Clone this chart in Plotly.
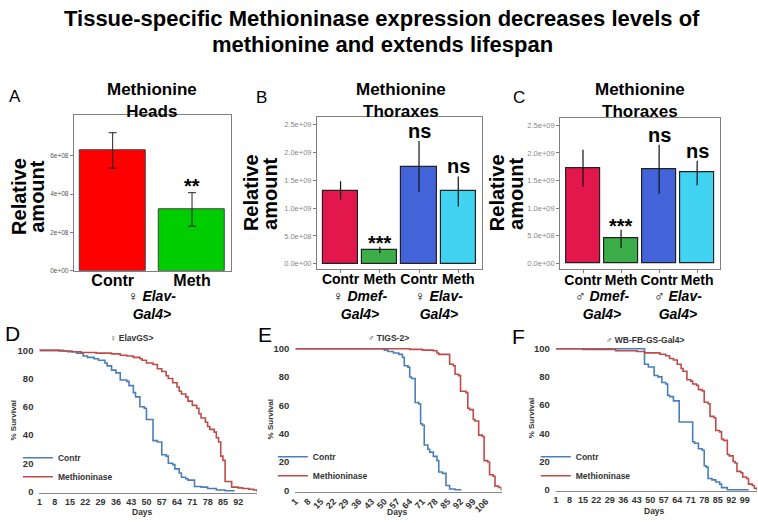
import plotly.graph_objects as go

W, H = 758, 523
def px_x(p): return p / W
def px_y(p): return 1 - p / H

FONT = "Liberation Sans, Arial, sans-serif"

# ---------------- data ----------------
title_lines = ["Tissue-specific Methioninase expression decreases levels of",
               "methionine and extends lifespan"]

# Panel A (female Elav-Gal4>, heads)
a_categories = ["Contr", "Meth"]
a_values = [6.31e8, 3.22e8]
a_err_hi = [7.21e8, 4.08e8]
a_err_lo = [5.36e8, 2.33e8]
a_signif = ["", "**"]
a_ticks = [0, 2e8, 4e8, 6e8]
a_ticklabels = ["0e+00", "2e+08", "4e+08", "6e+08"]

# Panel B (female thoraxes)
b_categories = ["Contr", "Meth", "Contr", "Meth"]
b_groups = ["♀ ", "♀ "]
b_group_names = ["Dmef-", "Elav-"]
b_values = [1.307e9, 0.247e9, 1.749e9, 1.307e9]
b_err_hi = [1.484e9, 0.306e9, 2.21e9, 1.572e9]
b_err_lo = [1.143e9, 0.189e9, 1.29e9, 1.03e9]
b_signif = ["", "***", "ns", "ns"]

# Panel C (male thoraxes)
c_categories = ["Contr", "Meth", "Contr", "Meth"]
c_groups = ["♂ ", "♂ "]
c_group_names = ["Dmef-", "Elav-"]
c_values = [1.732e9, 0.446e9, 1.708e9, 1.643e9]
c_err_hi = [2.06e9, 0.607e9, 2.15e9, 1.857e9]
c_err_lo = [1.386e9, 0.28e9, 1.26e9, 1.416e9]
c_signif = ["", "***", "ns", "ns"]

bc_ticks = [0, 0.5e9, 1.0e9, 1.5e9, 2.0e9, 2.5e9]
bc_ticklabels = ["0.0e+00", "5.0e+08", "1.0e+09", "1.5e+09", "2.0e+09", "2.5e+09"]

# Panel D survival (female ElavGS>)
d_contr_days = [1, 12, 16, 18, 21, 23, 26, 28, 31, 32, 34, 36, 38, 41, 42, 44, 45, 47, 49, 50,
                53, 55, 57, 59, 60, 62, 63, 65, 66, 68, 69, 72, 75, 78, 82, 86, 90]
d_contr_surv = [100, 99.5, 99, 98, 96, 95, 94, 93, 91, 89, 86, 84, 79, 78, 75, 70, 67, 60, 59, 51,
                36, 35, 26, 25, 20, 19, 16, 13, 10, 9, 8, 3.5, 3, 2, 1, 0.5, 0]
d_meth_days = [1, 10, 14, 20, 27, 34, 38, 41, 44, 47, 48, 50, 53, 55, 57, 59, 60, 62, 64, 65,
               66, 68, 69, 71, 73, 74, 75, 77, 78, 79, 81, 82, 83, 84, 85, 86, 89, 92, 94, 97, 99, 100.5]
d_meth_surv = [100, 99.5, 99, 98.5, 98, 97.5, 96.5, 96, 95, 94, 93, 91, 90, 87, 85, 82, 80, 77, 74, 71,
               69, 67, 64, 61, 59, 55, 52, 49, 46, 44, 42, 38, 35, 25, 22, 7, 3, 2.5, 2, 1.5, 1, 0]
d_ticks = [1, 8, 15, 22, 29, 36, 43, 50, 57, 64, 71, 78, 85, 92]

# Panel E survival (male TIGS-2>)
e_contr_days = [1, 50, 52, 55, 58, 60, 61, 63, 64, 65, 67, 69, 70, 71, 72, 74, 75, 77, 79, 80,
                82, 84, 86, 89, 92]
e_contr_surv = [100, 99, 98, 97, 96, 94, 88, 87, 80, 79, 62, 61, 47, 46, 32, 29, 27, 24, 21, 13,
                12, 3.5, 1, 0.5, 0]
e_meth_days = [1, 64, 71, 77, 79, 80, 86, 88, 89, 91, 92, 95, 96, 97, 99, 100, 102, 104, 105, 107,
               108, 110, 111, 113, 114.5]
e_meth_surv = [100, 99.5, 99, 98.5, 97, 96, 89, 88, 82, 81, 70, 69, 58, 57, 50, 49, 39, 38, 21, 20,
               11, 10, 3, 2, 0]
e_ticks = [1, 8, 15, 22, 29, 36, 43, 50, 57, 64, 71, 78, 85, 92, 99, 106]

# Panel F survival (male WB-FB-GS-Gal4>)
f_contr_days = [1, 47, 49, 52, 54, 56, 58, 59, 60, 62, 65, 72, 73, 75, 77, 78, 79, 80, 82, 84,
                86, 87, 90, 101]
f_contr_surv = [100, 89, 87, 81, 80, 76, 75, 67, 66, 63, 48, 34, 33, 29, 28, 17, 16, 8, 7, 5.5,
                4, 1.5, 0, 0]
f_meth_days = [1, 15, 32, 43, 47, 55, 58, 60, 62, 64, 66, 67, 69, 71, 72, 74, 75, 77, 78, 80,
               81, 83, 84, 86, 87, 88, 90, 91, 93, 94, 95, 97, 98, 100, 101, 103, 104, 105]
f_meth_surv = [100, 99.5, 98.5, 98, 97, 96, 95, 93, 92, 89, 86, 84, 78, 77, 75, 74, 71, 70, 62, 61,
               52, 51, 42, 41, 36, 35, 25, 24, 20, 19, 13, 12, 9, 8, 4, 3, 1, 0]
f_ticks = [1, 8, 15, 22, 29, 36, 43, 50, 57, 64, 71, 78, 85, 92, 99]

surv_ticks = [0, 20, 40, 60, 80, 100]

# ---------------- styles ----------------
A_COLORS = ["#FF0000", "#00CD00"]
BC_COLORS = ["#E2174B", "#3BAE49", "#4363D8", "#40D3F2"]
BLUE = "#4A7EBB"
RED = "#BE4B48"
BOX = "#7f7f7f"

fig = go.Figure()

def errs(v, hi, lo):
    return [h - x for h, x in zip(hi, v)], [x - l for l, x in zip(lo, v)]

up, dn = errs(a_values, a_err_hi, a_err_lo)
fig.add_trace(go.Bar(x=list(range(len(a_values))), y=a_values, width=0.833,
                     marker=dict(color=A_COLORS, line=dict(color="#404040", width=1)),
                     error_y=dict(type="data", symmetric=False, array=up, arrayminus=dn,
                                  color="#222", thickness=1, width=4),
                     xaxis="x", yaxis="y", showlegend=False))
up, dn = errs(b_values, b_err_hi, b_err_lo)
fig.add_trace(go.Bar(x=[1, 2, 3, 4], y=b_values, width=0.9,
                     marker=dict(color=BC_COLORS, line=dict(color="#222", width=1.2)),
                     error_y=dict(type="data", symmetric=False, array=up, arrayminus=dn,
                                  color="#111", thickness=1.2, width=0),
                     xaxis="x2", yaxis="y2", showlegend=False))
up, dn = errs(c_values, c_err_hi, c_err_lo)
fig.add_trace(go.Bar(x=[1, 2, 3, 4], y=c_values, width=0.9,
                     marker=dict(color=BC_COLORS, line=dict(color="#222", width=1.2)),
                     error_y=dict(type="data", symmetric=False, array=up, arrayminus=dn,
                                  color="#111", thickness=1.2, width=0),
                     xaxis="x3", yaxis="y3", showlegend=False))

surv_sets = [
    (d_contr_days, d_contr_surv, d_meth_days, d_meth_surv, "x4", "y4", "legend"),
    (e_contr_days, e_contr_surv, e_meth_days, e_meth_surv, "x5", "y5", "legend2"),
    (f_contr_days, f_contr_surv, f_meth_days, f_meth_surv, "x6", "y6", "legend3"),
]
for cd, cs, md, ms, xa, ya, lg in surv_sets:
    fig.add_trace(go.Scatter(x=cd, y=cs, mode="lines", line=dict(color=BLUE, width=1.6, shape="hv"),
                             name="Contr", xaxis=xa, yaxis=ya, legend=lg))
    fig.add_trace(go.Scatter(x=md, y=ms, mode="lines", line=dict(color=RED, width=1.6, shape="hv"),
                             name="Methioninase", xaxis=xa, yaxis=ya, legend=lg))

bar_y_common = dict(showgrid=False, zeroline=False, showline=True, mirror=True,
                    linecolor=BOX, linewidth=1, ticks="outside", ticklen=3, tickcolor=BOX)
layout = dict(
    width=W, height=H, margin=dict(l=0, r=0, t=0, b=0),
    paper_bgcolor="white", plot_bgcolor="white",
    font=dict(family=FONT, color="black"),
    bargap=0,
    xaxis=dict(domain=[px_x(68.3), px_x(226.7)], range=[-0.49, 1.49], anchor="y",
               tickvals=list(range(len(a_categories))), ticktext=a_categories, tickangle=0,
               ticklabelstandoff=-5,
               tickfont=dict(size=16, weight="bold"), showgrid=False, zeroline=False,
               showline=True, mirror=True, linecolor=BOX, ticks=""),
    yaxis=dict(domain=[px_y(271), px_y(113)], range=[0, 8.12e8], anchor="x",
               tickvals=a_ticks, ticktext=a_ticklabels, tickfont=dict(size=6.5, color="#555"),
               **bar_y_common),
    xaxis2=dict(domain=[px_x(313.5), px_x(479.6)], range=[0.4, 4.6], anchor="y2",
                tickvals=[1, 2, 3, 4], ticktext=b_categories, tickangle=0, ticklabelstandoff=-5,
                tickfont=dict(size=14, weight="bold"), showgrid=False, zeroline=False,
                showline=True, mirror=True, linecolor=BOX, ticks="outside", ticklen=3, tickcolor=BOX),
    yaxis2=dict(domain=[px_y(268.7), px_y(114.7)], range=[-0.088e9, 2.642e9], anchor="x2",
                tickvals=bc_ticks, ticktext=bc_ticklabels, tickfont=dict(size=7.5, color="#888"),
                **bar_y_common),
    xaxis3=dict(domain=[px_x(558.6), px_x(719.7)], range=[0.4, 4.6], anchor="y3",
                tickvals=[1, 2, 3, 4], ticktext=c_categories, tickangle=0, ticklabelstandoff=-5,
                tickfont=dict(size=14, weight="bold"), showgrid=False, zeroline=False,
                showline=True, mirror=True, linecolor=BOX, ticks="outside", ticklen=3, tickcolor=BOX),
    yaxis3=dict(domain=[px_y(269.3), px_y(116)], range=[-0.107e9, 2.63e9], anchor="x3",
                tickvals=bc_ticks, ticktext=bc_ticklabels, tickfont=dict(size=7.5, color="#888"),
                **bar_y_common),
)

surv_axes = [
    ("4", [33.7, 253], [496.4, 350.3], [1, 100.6], d_ticks, 0),
    ("5", [291.7, 499.5], [495.4, 348.6], [1, 114.6], e_ticks, -45),
    ("6", [554.3, 757], [494.7, 348.6], [1, 105.4], f_ticks, 0),
]
for k, xd, yd, xr, tv, ang in surv_axes:
    layout["xaxis" + k] = dict(domain=[px_x(xd[0]), px_x(xd[1])], range=xr, anchor="y" + k,
                               tickvals=tv, tickangle=ang, showgrid=False, zeroline=False,
                               showline=True, linecolor="#868686", linewidth=1, ticks="",
                               tickfont=dict(size=9, weight="bold", color="#333"))
    layout["yaxis" + k] = dict(domain=[px_y(yd[0]), px_y(yd[1])], range=[-1, 101], anchor="x" + k,
                               tickvals=surv_ticks, showgrid=False, zeroline=False, showline=False,
                               ticks="", ticklabelstandoff=5,
                               tickfont=dict(size=9.5, weight="bold", color="#333"))

leg_common = dict(bgcolor="rgba(0,0,0,0)", font=dict(size=8.5, weight="bold", color="#333"),
                  xanchor="left", yanchor="top", tracegroupgap=0, itemwidth=30)
layout["legend"] = dict(x=px_x(12), y=px_y(446), **leg_common)
layout["legend2"] = dict(x=px_x(269), y=px_y(445), **leg_common)
layout["legend3"] = dict(x=px_x(534), y=px_y(445), **leg_common)

fig.update_layout(**layout)

ann = []
def text(x, y, t, size, xref="paper", yref="paper", angle=0, color="black", **kw):
    ann.append(dict(x=x, y=y, xref=xref, yref=yref, text=t, showarrow=False, textangle=angle,
                    xanchor=kw.pop("xanchor", "center"), yanchor=kw.pop("yanchor", "middle"),
                    font=dict(family=FONT, size=size, color=color), **kw))

# main title
text(0.5, px_y(15), "<b>" + title_lines[0] + "</b>", 22)
text(0.5, px_y(41), "<b>" + title_lines[1] + "</b>", 22)

# panel letters
for lab, x, y, s in [("A", 9, 94, 17), ("B", 258, 95, 17), ("C", 517, 95, 17),
                     ("D", 7, 335, 21), ("E", 261, 336, 21), ("F", 517, 338, 21)]:
    text(px_x(x), px_y(y), lab, s)

# bar panel titles
for cx, sub in [(147.5, "Heads"), (398, "Thoraxes"), (639, "Thoraxes")]:
    text(px_x(cx), px_y(97.5), "<b>Methionine<br>" + sub + "</b>", 17)

# Relative amount labels
for x1, x2, cy in [(13, 31, 195), (247, 266, 192), (495, 514, 192)]:
    text(px_x(x1), px_y(cy), "<b>Relative</b>", 20, angle=-90)
    text(px_x(x2), px_y(cy), "<b>amount</b>", 20, angle=-90)

# significance labels
for i, s in enumerate(a_signif):
    if s:
        ann.append(dict(x=i, y=a_err_hi[i], xref="x", yref="y", text="<b>" + s + "</b>",
                        showarrow=False, xanchor="center", yanchor="bottom", yshift=-6,
                        font=dict(family=FONT, size=20, color="black")))
for xa, ya, sig, hi in [("x2", "y2", b_signif, b_err_hi), ("x3", "y3", c_signif, c_err_hi)]:
    for i, s in enumerate(sig):
        if s:
            ann.append(dict(x=i + 1, y=hi[i], xref=xa, yref=ya, text="<b>" + s + "</b>",
                            showarrow=False, xanchor="center", yanchor="bottom",
                            yshift=-3 if s == "ns" else -9,
                            font=dict(family=FONT, size=20, color="black")))

# genotype labels (two-line, one text each)
text(0.5, px_y(306), "♀ <b><i>Elav-</i></b><br><b><i>Gal4></i></b>", 14, xref="x")
for xa, sym, names in [("x2", b_groups, b_group_names), ("x3", c_groups, c_group_names)]:
    for j, nm in enumerate(names):
        cx = 1.5 + 2 * j
        text(cx, px_y(306), sym[j] + "<b><i>" + nm + "</i></b><br><b><i>Gal4></i></b>", 14, xref=xa)

# survival subtitles and axis titles
for cx, cy, t in [(127, 339, "♀ <b>ElavGS></b>"), (386, 339, "♂ <b>TIGS-2></b>"),
                  (644, 341.5, "♂ <b>WB-FB-GS-Gal4></b>")]:
    text(px_x(cx), px_y(cy), t, 8.5, color="#333")
for x, y in [(8, 423), (267, 422), (530, 421)]:
    text(px_x(x), px_y(y), "<b>% Survival</b>", 8, angle=-90, color="#333")
for x, y in [(138, 516), (395, 516), (654, 515)]:
    text(px_x(x), px_y(y), "<b>Days</b>", 8.5, color="#333")

fig.update_layout(annotations=ann)
fig.write_html("out.html", config={"displayModeBar": False},
               post_script="document.body.style.margin='0';")
